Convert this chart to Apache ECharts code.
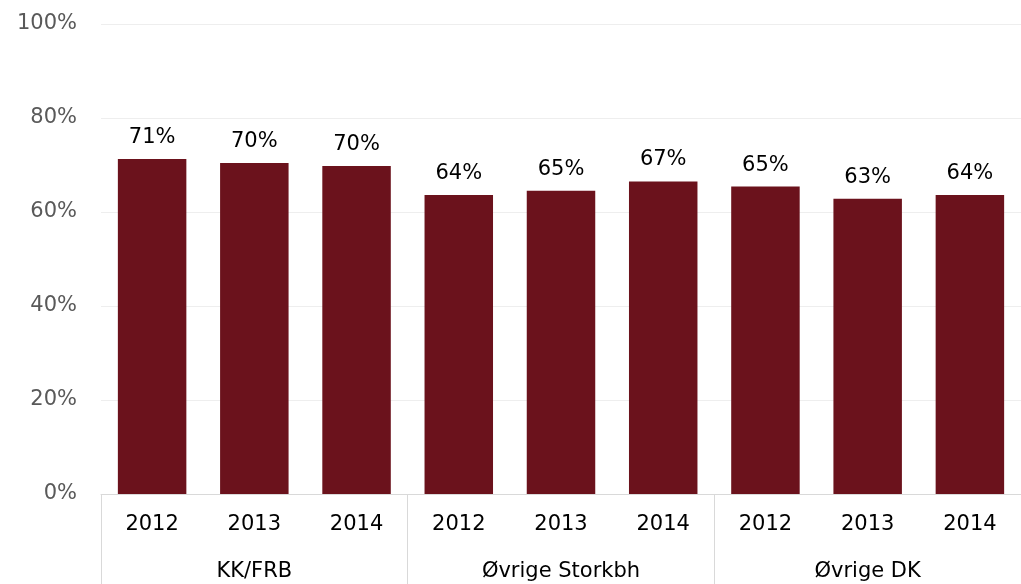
<!DOCTYPE html>
<html>
<head>
<meta charset="utf-8">
<script src="https://cdn.jsdelivr.net/npm/echarts@6/dist/echarts.min.js"></script>
<style>
  html, body { margin: 0; padding: 0; background: #fff; }
  #chart { width: 1021px; height: 584px; }
</style>
</head>
<body>
<div id="chart"></div>
<script>
var years = ['2012', '2013', '2014', '2012', '2013', '2014', '2012', '2013', '2014'];
var groups = ['KK/FRB', 'Øvrige Storkbh', 'Øvrige DK'];
var shares = [71.3, 70.4, 69.8, 63.6, 64.5, 66.5, 65.4, 62.8, 63.6];
var yTicks = [0, 20, 40, 60, 80, 100];

window.onload = function () {
    var font = 'DejaVu Sans';
    var option = {
        animation: false,
        textStyle: { fontFamily: font },
        grid: {
            left: 101,
            right: 0,
            top: 24,
            bottom: 90
        },
        xAxis: [
            {
                type: 'category',
                data: years,
                axisTick: { show: false },
                axisLine: { lineStyle: { color: '#d9d9d9', width: 1 } },
                axisLabel: {
                    color: '#000',
                    fontSize: 21,
                    fontFamily: font,
                    margin: 20,
                    interval: 0
                }
            },
            {
                type: 'category',
                data: groups,
                position: 'bottom',
                axisLine: { show: false },
                axisTick: {
                    show: true,
                    length: 92,
                    lineStyle: { color: '#d9d9d9', width: 1 }
                },
                axisLabel: {
                    color: '#000',
                    fontSize: 21,
                    fontFamily: font,
                    margin: 67,
                    interval: 0
                }
            }
        ],
        yAxis: {
            type: 'value',
            min: yTicks[0],
            max: yTicks[yTicks.length - 1],
            interval: 20,
            axisLine: { show: false },
            axisTick: { show: false },
            splitLine: { lineStyle: { color: '#eeeeee', width: 1 } },
            axisLabel: {
                color: '#595959',
                fontSize: 21,
                fontFamily: font,
                margin: 24,
                formatter: '{value}%'
            }
        },
        series: [
            {
                type: 'bar',
                xAxisIndex: 0,
                data: shares,
                barWidth: '67%',
                itemStyle: { color: '#6b121c' },
                label: {
                    show: true,
                    position: 'top',
                    distance: 11,
                    color: '#000',
                    fontSize: 21,
                    fontFamily: font,
                    formatter: function (p) { return Math.round(p.value) + '%'; }
                }
            }
        ]
    };
    var E1 = echarts.init(document.querySelector('#chart'));
    E1.setOption(option);
};
</script>
</body>
</html>
